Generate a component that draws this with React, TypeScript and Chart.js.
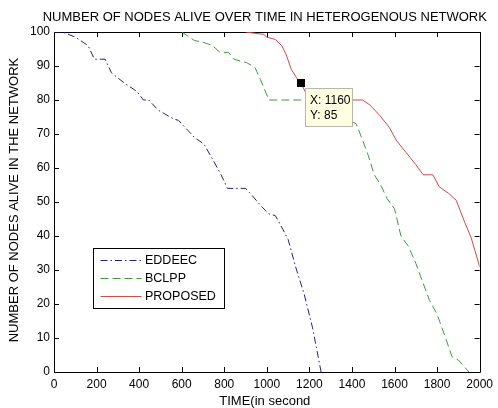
import React, { useEffect, useRef } from "react";
import { Chart, registerables } from "chart.js";

Chart.register(...registerables);

const chartTitle = "NUMBER OF NODES ALIVE OVER TIME IN HETEROGENOUS NETWORK";
const xTitle = "TIME(in second";
const yTitle = "NUMBER OF NODES ALIVE IN THE NETWORK";

const xTickValues = [0, 200, 400, 600, 800, 1000, 1200, 1400, 1600, 1800, 2000];
const yTickValues = [0, 10, 20, 30, 40, 50, 60, 70, 80, 90, 100];

const seriesNames = ["EDDEEC", "BCLPP", "PROPOSED"];

const eddeecTime = [0, 40, 100, 160, 190, 240, 270, 330, 390, 420, 445, 490, 560, 585, 630, 660, 705, 750, 785, 815, 900, 930, 970, 1010, 1040, 1075, 1100, 1135, 1175, 1215, 1255];
const eddeecAlive = [100, 100, 98.5, 96, 92, 92, 88, 85, 82.5, 80, 80, 77, 74.5, 74, 71, 69, 67, 62, 58, 54, 54, 52, 49, 46.5, 46, 42, 39, 31, 23, 13, 0];

const bclppTime = [600, 660, 700, 745, 780, 820, 845, 905, 945, 970, 990, 1010, 1350, 1390, 1420, 1445, 1475, 1505, 1535, 1565, 1600, 1630, 1665, 1700, 1735, 1765, 1800, 1840, 1870, 1900, 1950];
const bclppAlive = [100, 97.5, 97, 96, 94, 94, 92, 91, 89.5, 86, 83, 80, 80, 74, 73, 69, 64, 58, 55, 51, 48, 40, 37, 32, 26, 21, 17, 10, 4.5, 3.5, 0];

const proposedTime = [900, 985, 1000, 1040, 1070, 1090, 1115, 1140, 1160, 1200, 1450, 1485, 1530, 1575, 1610, 1655, 1700, 1735, 1780, 1810, 1855, 1890, 1930, 1960, 2000];
const proposedAlive = [100, 99.3, 98.5, 97.8, 96, 93.5, 89, 86.5, 85, 80, 80, 78.5, 75.5, 72, 68, 64.5, 61, 58, 58, 54.5, 52.5, 50.5, 44, 39.5, 31];

const tipX = 1160;
const tipY = 85;

const FONT = "'Liberation Sans', Arial, sans-serif";
const COLORS = ["#23237e", "#3f9a3f", "#cc4a4a"];
const DASHES = [[7, 3, 1.5, 3], [8, 4], []];

const zip = (xs: number[], ys: number[]) => xs.map((x, i) => ({ x, y: ys[i] }));

const decorPlugin = {
  id: "decor",
  beforeDatasetsDraw(chart: any) {
    const { ctx, chartArea: a, scales } = chart;
    const xs = scales.x, ys = scales.y;
    ctx.save();
    ctx.strokeStyle = "#000";
    ctx.lineWidth = 1;
    ctx.beginPath();
    ctx.rect(Math.round(a.left) + 0.5, Math.round(a.top) + 0.5, Math.round(a.right - a.left), Math.round(a.bottom - a.top));
    ctx.stroke();
    const tl = 5;
    ctx.beginPath();
    xTickValues.forEach((v) => {
      const px = Math.round(xs.getPixelForValue(v)) + 0.5;
      ctx.moveTo(px, a.bottom);
      ctx.lineTo(px, a.bottom - tl);
      ctx.moveTo(px, a.top);
      ctx.lineTo(px, a.top + tl);
    });
    yTickValues.forEach((v) => {
      const py = Math.round(ys.getPixelForValue(v)) + 0.5;
      ctx.moveTo(a.left, py);
      ctx.lineTo(a.left + tl, py);
      ctx.moveTo(a.right, py);
      ctx.lineTo(a.right - tl, py);
    });
    ctx.stroke();
    // titles
    ctx.fillStyle = "#000";
    ctx.font = `13px ${FONT}`;
    ctx.textAlign = "center";
    ctx.textBaseline = "middle";
    ctx.fillText(chartTitle, (a.left + a.right) / 2 - 2, 17);
    ctx.fillText(xTitle, (a.left + a.right) / 2 - 2, 401);
    ctx.save();
    ctx.translate(14, (a.top + a.bottom) / 2 - 2);
    ctx.rotate(-Math.PI / 2);
    ctx.fillText(yTitle, 0, 0);
    ctx.restore();
    ctx.restore();
  },
  afterDatasetsDraw(chart: any) {
    const { ctx, chartArea: a, scales } = chart;
    ctx.save();
    // data tip
    const mx = scales.x.getPixelForValue(tipX);
    const my = scales.y.getPixelForValue(tipY);
    const bx = Math.round(mx + 4) + 0.5;
    const by = Math.round(my + 5) + 0.5;
    ctx.fillStyle = "#ffffe1";
    ctx.strokeStyle = "#b8b8a8";
    ctx.lineWidth = 1;
    ctx.fillRect(bx, by, 47, 38);
    ctx.strokeRect(bx, by, 47, 38);
    ctx.fillStyle = "#000";
    ctx.font = `12px ${FONT}`;
    ctx.textAlign = "left";
    ctx.textBaseline = "alphabetic";
    ctx.fillText(`X: ${tipX}`, bx + 4.5, by + 15.5);
    ctx.fillText(`Y: ${tipY}`, bx + 4.5, by + 30);
    ctx.fillStyle = "#000";
    ctx.fillRect(Math.round(mx - 4), Math.round(my - 4), 8, 8);

    // legend
    const lx = a.left + 39.5, ly = a.top + 216.5, lw = 131, lh = 60;
    ctx.fillStyle = "#fff";
    ctx.fillRect(lx, ly, lw, lh);
    ctx.strokeStyle = "#000";
    ctx.strokeRect(lx, ly, lw, lh);
    ctx.font = `12.5px ${FONT}`;
    ctx.textBaseline = "middle";
    seriesNames.forEach((name, i) => {
      const y = ly + 12 + i * 18;
      ctx.strokeStyle = COLORS[i];
      ctx.lineWidth = 1;
      ctx.setLineDash(DASHES[i]);
      ctx.beginPath();
      ctx.moveTo(lx + 7, y);
      ctx.lineTo(lx + 48, y);
      ctx.stroke();
      ctx.setLineDash([]);
      ctx.fillStyle = "#000";
      ctx.fillText(name, lx + 51.5, y + 0.5);
    });
    ctx.restore();
  },
};

export default function App() {
  const ref = useRef<HTMLCanvasElement | null>(null);
  useEffect(() => {
    document.body.style.margin = "0";
    if (!ref.current) return;
    const chart = new Chart(ref.current, {
      type: "line",
      data: {
        datasets: [
          {
            label: seriesNames[0],
            data: zip(eddeecTime, eddeecAlive),
            borderColor: COLORS[0],
            borderWidth: 1,
            borderDash: DASHES[0],
            pointRadius: 0,
            tension: 0,
          },
          {
            label: seriesNames[1],
            data: zip(bclppTime, bclppAlive),
            borderColor: COLORS[1],
            borderWidth: 1,
            borderDash: DASHES[1],
            pointRadius: 0,
            tension: 0,
          },
          {
            label: seriesNames[2],
            data: zip(proposedTime, proposedAlive),
            borderColor: COLORS[2],
            borderWidth: 1,
            pointRadius: 0,
            tension: 0,
          },
        ],
      },
      options: {
        animation: false,
        responsive: false,
        devicePixelRatio: 1,
        events: [],
        layout: { padding: { left: 0, right: 12, top: 32, bottom: 0 } },
        plugins: {
          legend: { display: false },
          title: { display: false },
          tooltip: { enabled: false },
        },
        scales: {
          x: {
            type: "linear",
            min: 0,
            max: 2000,
            afterFit: (s: any) => { s.height = 36; },
            afterBuildTicks: (s: any) => { s.ticks = xTickValues.map((v) => ({ value: v })); },
            grid: { display: false, drawTicks: false },
            border: { display: false },
            ticks: {
              color: "#000",
              font: { family: FONT, size: 12 },
              padding: 5,
              maxRotation: 0,
              autoSkip: false,
              callback: (v: any) => String(v),
            },
          },
          y: {
            type: "linear",
            min: 0,
            max: 100,
            afterFit: (s: any) => { s.width = 54; },
            afterBuildTicks: (s: any) => { s.ticks = yTickValues.map((v) => ({ value: v })); },
            grid: { display: false, drawTicks: false },
            border: { display: false },
            ticks: {
              color: "#000",
              font: { family: FONT, size: 12 },
              padding: 4,
              autoSkip: false,
              callback: (v: any) => String(v),
            },
          },
        },
      },
      plugins: [decorPlugin],
    });
    return () => chart.destroy();
  }, []);
  return (
    <div style={{ width: 498, height: 408 }}>
      <canvas ref={ref} width={498} height={408} style={{ display: "block" }} />
    </div>
  );
}
